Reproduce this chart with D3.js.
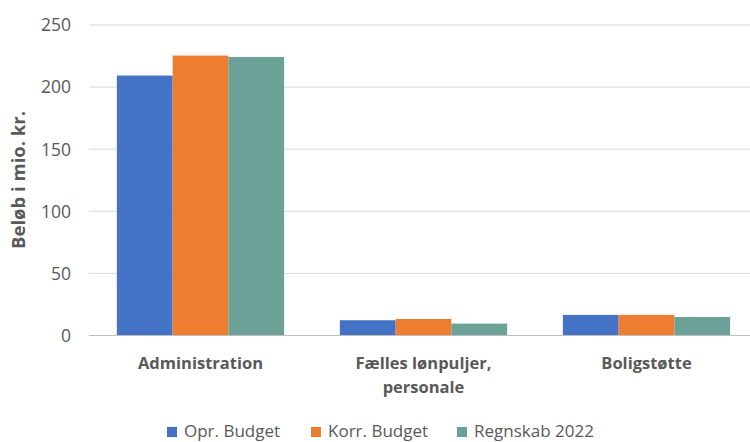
<!DOCTYPE html>
<html><head><meta charset="utf-8">
<script src="https://cdn.jsdelivr.net/npm/d3@7"></script>
<style>body{margin:0;background:#fff}svg{display:block}</style>
</head><body><svg id="c" width="750" height="442"></svg>
<script>
const categories = [["Administration"], ["Fælles lønpuljer,", "personale"], ["Boligstøtte"]];
const seriesNames = ["Opr. Budget", "Korr. Budget", "Regnskab 2022"];
const oprBudget = [209.3, 12.3, 16.6];
const korrBudget = [225.4, 13.3, 16.6];
const regnskab = [224.3, 9.6, 14.9];
const yTicks = [0, 50, 100, 150, 200, 250];
const colors = ["#4472C4", "#ED7D31", "#6BA197"];
const seriesValues = [oprBudget, korrBudget, regnskab];

const svg = d3.select("#c");
const font = "'Open Sans', sans-serif";
const x0 = d3.scaleBand().domain(d3.range(categories.length)).range([89, 758]).paddingInner(0.25).paddingOuter(0.125);
const x1 = d3.scaleBand().domain(d3.range(seriesNames.length)).range([0, x0.bandwidth()]);
const y = d3.scaleLinear().domain([0, 250]).range([335.5, 25]);

// gridlines
svg.append("g").selectAll("line").data(yTicks.filter(d => d > 0)).join("line")
  .attr("x1", 89).attr("x2", 750).attr("y1", d => y(d)).attr("y2", d => y(d))
  .attr("stroke", "#d9d9d9").attr("stroke-width", 1);

// y tick labels
svg.append("g").selectAll("text").data(yTicks).join("text")
  .attr("x", 71).attr("y", d => y(d)).attr("dy", "0.36em").attr("text-anchor", "end")
  .attr("font-family", font).attr("font-size", 17.5).attr("fill", "#595959").text(d => d);

// bars
const g = svg.append("g");
categories.forEach((c, i) => {
  seriesValues.forEach((vals, s) => {
    g.append("rect").attr("x", x0(i) + x1(s)).attr("width", x1.bandwidth())
      .attr("y", y(vals[i])).attr("height", y(0) - y(vals[i])).attr("fill", colors[s]);
  });
});

// baseline
svg.append("line").attr("x1", 89).attr("x2", 750).attr("y1", y(0)).attr("y2", y(0))
  .attr("stroke", "#bfbfbf").attr("stroke-width", 1.2);

// x labels
categories.forEach((lines, i) => {
  const cx = x0(i) + x0.bandwidth() / 2;
  const t = svg.append("text").attr("x", cx).attr("y", 369)
    .attr("text-anchor", "middle").attr("font-family", font).attr("font-size", 16.5)
    .attr("font-weight", "bold").attr("fill", "#595959");
  lines.forEach((l, k) => t.append("tspan").attr("x", cx).attr("dy", k ? 24 : 0).text(l));
});

// y axis title
svg.append("text").attr("transform", "translate(25,180) rotate(-90)").attr("text-anchor", "middle")
  .attr("font-family", font).attr("font-size", 18.5).attr("font-weight", "bold").attr("fill", "#595959")
  .text("Beløb i mio. kr.");

// legend
const legX = [167, 311, 457];
seriesNames.forEach((n, s) => {
  svg.append("rect").attr("x", legX[s]).attr("y", 427).attr("width", 10).attr("height", 10).attr("fill", colors[s]);
  svg.append("text").attr("x", legX[s] + 17).attr("y", 437)
    .attr("font-family", font).attr("font-size", 17).attr("fill", "#595959").text(n);
});
</script></body></html>
